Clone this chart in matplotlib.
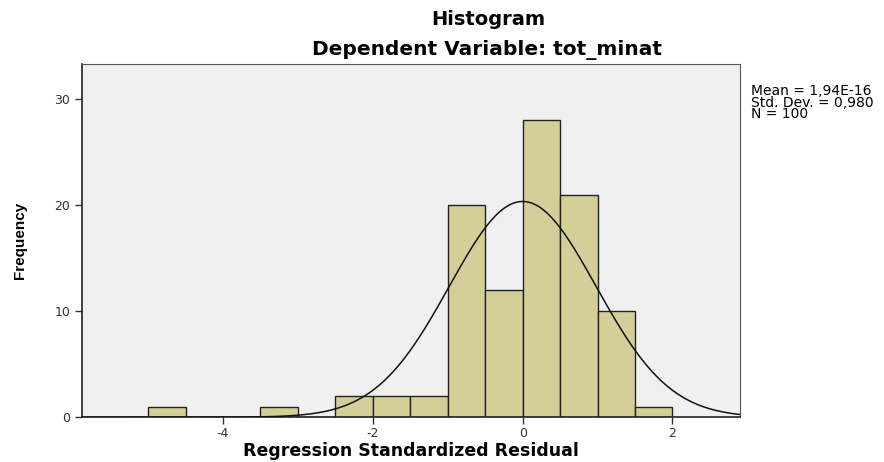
import numpy as np
import matplotlib.pyplot as plt

plt.rcParams['font.family'] = ['DejaVu Sans']
plt.rcParams['axes.unicode_minus'] = False

# histogram bins (left edges) and counts, bin width 0.5
bin_left = [-5.0, -4.5, -4.0, -3.5, -3.0, -2.5, -2.0, -1.5, -1.0, -0.5, 0.0, 0.5, 1.0, 1.5]
counts = [1, 0, 0, 1, 0, 2, 2, 2, 20, 12, 28, 21, 10, 1]
bin_width = 0.5

mean = 1.94e-16
std = 0.980
n = 100

fig = plt.figure(figsize=(8.84, 4.62), dpi=100)
ax = fig.add_axes([0.093, 0.097, 0.744, 0.764])
ax.set_facecolor('#f0f0f0')

ax.bar(bin_left, counts, width=bin_width, align='edge',
       color='#d4cf98', edgecolor='#222222', linewidth=1.0, zorder=2)

# fitted normal curve
xs = np.linspace(-5.9, 2.9, 400)
ys = n * bin_width / (std * np.sqrt(2 * np.pi)) * np.exp(-0.5 * ((xs - mean) / std) ** 2)
ax.plot(xs, ys, color='#111111', linewidth=1.1, zorder=3)

ax.set_xlim(-5.88, 2.9)
ax.set_ylim(0, 33.3)
ax.set_xticks([-4, -2, 0, 2])
ax.set_yticks([0, 10, 20, 30])
ax.tick_params(direction='out', length=5, width=1, labelsize=9, colors='#333333')
ax.tick_params(axis='x', pad=2)
for s in ['left', 'bottom']:
    ax.spines[s].set_color('#222222')
    ax.spines[s].set_linewidth(1.2)
for s in ['top', 'right']:
    ax.spines[s].set_color('#555555')
    ax.spines[s].set_linewidth(0.8)

ax.set_ylabel('Frequency', fontsize=11, fontweight='bold', labelpad=20,
              family=['Liberation Sans Narrow', 'Liberation Sans', 'DejaVu Sans'])
fig.text(0.465, 0.012, 'Regression Standardized Residual', ha='center', va='baseline',
         fontsize=12.5, fontweight='bold')

fig.text(0.552, 0.957, 'Histogram', ha='center', va='center', fontsize=14, fontweight='bold')
fig.text(0.551, 0.892, 'Dependent Variable: tot_minat', ha='center', va='center',
         fontsize=14.5, fontweight='bold')

fig.text(0.849, 0.818, 'Mean = 1,94E-16\nStd. Dev. = 0,980\nN = 100',
         ha='left', va='top', fontsize=10, linespacing=0.78)

fig.savefig('out.png', dpi=100)
